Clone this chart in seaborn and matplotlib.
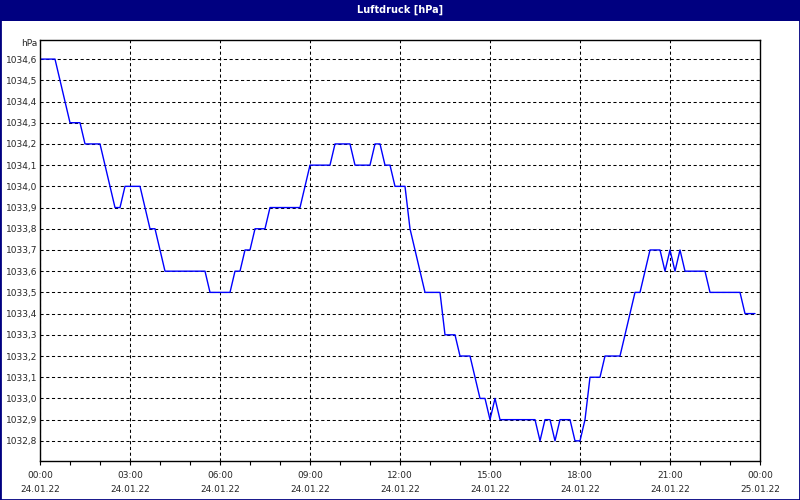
import numpy as np
import pandas as pd
import matplotlib
matplotlib.use("Agg")
import matplotlib.pyplot as plt
import matplotlib.dates as mdates
from matplotlib.patches import Rectangle
import seaborn as sns

# ---- data (10-minute readings, 24.01.22) ----
pressure = [
    1034.6, 1034.6, 1034.6, 1034.6, 1034.5, 1034.4, 1034.3, 1034.3, 1034.3, 1034.2,
    1034.2, 1034.2, 1034.2, 1034.1, 1034.0, 1033.9, 1033.9, 1034.0, 1034.0, 1034.0,
    1034.0, 1033.9, 1033.8, 1033.8, 1033.7, 1033.6, 1033.6, 1033.6, 1033.6, 1033.6,
    1033.6, 1033.6, 1033.6, 1033.6, 1033.5, 1033.5, 1033.5, 1033.5, 1033.5, 1033.6,
    1033.6, 1033.7, 1033.7, 1033.8, 1033.8, 1033.8, 1033.9, 1033.9, 1033.9, 1033.9,
    1033.9, 1033.9, 1033.9, 1034.0, 1034.1, 1034.1, 1034.1, 1034.1, 1034.1, 1034.2,
    1034.2, 1034.2, 1034.2, 1034.1, 1034.1, 1034.1, 1034.1, 1034.2, 1034.2, 1034.1,
    1034.1, 1034.0, 1034.0, 1034.0, 1033.8, 1033.7, 1033.6, 1033.5, 1033.5, 1033.5,
    1033.5, 1033.3, 1033.3, 1033.3, 1033.2, 1033.2, 1033.2, 1033.1, 1033.0, 1033.0,
    1032.9, 1033.0, 1032.9, 1032.9, 1032.9, 1032.9, 1032.9, 1032.9, 1032.9, 1032.9,
    1032.8, 1032.9, 1032.9, 1032.8, 1032.9, 1032.9, 1032.9, 1032.8, 1032.8, 1032.9,
    1033.1, 1033.1, 1033.1, 1033.2, 1033.2, 1033.2, 1033.2, 1033.3, 1033.4, 1033.5,
    1033.5, 1033.6, 1033.7, 1033.7, 1033.7, 1033.6, 1033.7, 1033.6, 1033.7, 1033.6,
    1033.6, 1033.6, 1033.6, 1033.6, 1033.5, 1033.5, 1033.5, 1033.5, 1033.5, 1033.5,
    1033.5, 1033.4, 1033.4, 1033.4,
]
start_time = "2022-01-24 00:00"
end_time = "2022-01-25 00:00"
title = "Luftdruck [hPa]"
unit_label = "hPa"
y_ticks = [1032.8, 1032.9, 1033.0, 1033.1, 1033.2, 1033.3, 1033.4, 1033.5, 1033.6, 1033.7,
           1033.8, 1033.9, 1034.0, 1034.1, 1034.2, 1034.3, 1034.4, 1034.5, 1034.6]

times = pd.date_range(start_time, periods=len(pressure), freq="10min")
df = pd.DataFrame({"time": times, "pressure": pressure})

sns.set_style("white")
plt.rcParams["font.family"] = ["DejaVu Sans"]
FS = 6.5

fig = plt.figure(figsize=(8, 5), dpi=100)
fig.patch.set_facecolor("white")
ax = fig.add_axes([40 / 800, 1 - 461 / 500, 720 / 800, 421 / 500])

sns.lineplot(data=df, x="time", y="pressure", ax=ax, color="#0000FF", linewidth=1.0)

ax.set_xlim(pd.Timestamp(start_time), pd.Timestamp(end_time))
ax.set_ylim(1032.705, 1034.69)

# x ticks
major = pd.date_range(start_time, end_time, freq="3h")
minor = pd.date_range(start_time, end_time, freq="1h")
ax.set_xticks(mdates.date2num(major.to_pydatetime()))
ax.set_xticklabels([t.strftime("%H:%M\n%d.%m.%y") for t in major], fontsize=FS)
ax.set_xticks(mdates.date2num(minor.to_pydatetime()), minor=True)
for lbl in ax.get_xticklabels():
    lbl.set_linespacing(1.8)
ax.tick_params(axis="x", which="both", direction="out", length=3, width=0.8,
               color="black", pad=4, bottom=True)

# y ticks
ax.set_yticks(y_ticks)
ax.set_yticklabels([f"{v:.1f}".replace(".", ",") for v in y_ticks], fontsize=FS)
ax.tick_params(axis="y", which="both", length=0, pad=2, left=True)

ax.set_xlabel("")
ax.set_ylabel("")

ax.grid(True, which="major", color="black", linestyle=(0, (3, 2.5)), linewidth=0.75)
for s in ax.spines.values():
    s.set_visible(True)
    s.set_color("black")
    s.set_linewidth(1.0)

# title bar and frame
fig.patches.append(Rectangle((0, 1 - 21 / 500), 1, 21 / 500, transform=fig.transFigure,
                             facecolor="#000080", edgecolor="none", zorder=0))
fig.patches.append(Rectangle((0, 0), 1, 1, transform=fig.transFigure,
                             facecolor="none", edgecolor="#000080", linewidth=2.0, zorder=5))
fig.text(0.5, 1 - 9.5 / 500, title, ha="center", va="center", color="white",
         fontsize=7, fontweight="bold")
fig.text(37 / 800, 1 - 44 / 500, unit_label, ha="right", va="center", fontsize=FS)

fig.savefig("out.png", dpi=100)
